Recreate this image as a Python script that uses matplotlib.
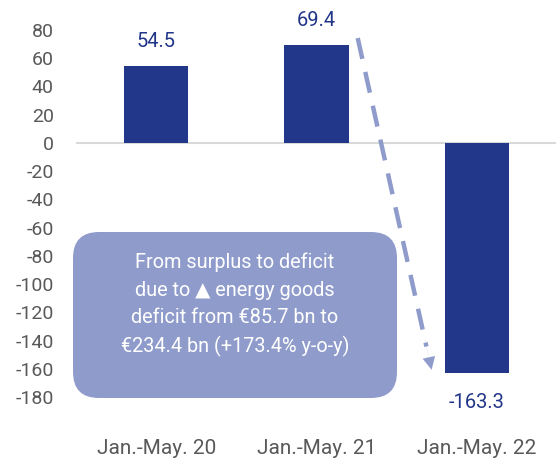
import matplotlib
matplotlib.use("Agg")
import matplotlib.pyplot as plt
from matplotlib.patches import FancyBboxPatch
from matplotlib.transforms import IdentityTransform

categories = ["Jan.-May. 20", "Jan.-May. 21", "Jan.-May. 22"]
values = [54.5, 69.4, -163.3]
value_labels = ["54.5", "69.4", "-163.3"]
yticks = list(range(80, -181, -20))
note = ("From surplus to deficit\ndue to \u25B2 energy goods\n"
        "deficit from \u20ac85.7 bn to\n\u20ac234.4 bn (+173.4% y-o-y)")

plt.rcParams['font.family'] = ['Roboto', 'DejaVu Sans']

bar_color = "#22368A"
label_color = "#22368A"
light = "#8F9CCB"
grey = "#595959"

fig = plt.figure(figsize=(5.56, 4.61), dpi=100)
ax = fig.add_axes([76/556, 1-397/461, 481/556, 367/461])

x = list(range(len(categories)))
ax.bar(x, values, width=0.4, color=bar_color, zorder=3)
ax.set_xlim(-0.5, 2.5)
ax.set_ylim(-180, 80)
ax.set_yticks(yticks)
ax.set_yticklabels([str(t) for t in yticks], fontsize=14, color=grey)
ax.set_xticks(x)
ax.set_xticklabels(categories, fontsize=15, color=grey)
ax.tick_params(axis='y', length=0, pad=16)
ax.tick_params(axis='x', length=0, pad=30)
for s in ax.spines.values():
    s.set_visible(False)
ax.axhline(0, color="#D9D9D9", lw=1.5, zorder=2)

for xi, v, lab in zip(x, values, value_labels):
    if v >= 0:
        ax.annotate(lab, (xi, v), xytext=(0, 11), textcoords="offset points",
                    ha='center', va='bottom', fontsize=14.5, color=label_color,
                    annotation_clip=False)
    else:
        ax.annotate(lab, (xi, v), xytext=(0, -14), textcoords="offset points",
                    ha='center', va='top', fontsize=14.5, color=label_color,
                    annotation_clip=False)

# annotation box (pixel coordinates)
box = FancyBboxPatch((73, 63), 324, 166, boxstyle="round,pad=0,rounding_size=26",
                     transform=IdentityTransform(), facecolor=light, edgecolor='none',
                     zorder=4)
fig.patches.append(box)
fig.text(235/556, 1-305/461, note, ha='center', va='center', fontsize=14.3,
         color='white', linespacing=1.55, zorder=5)

# dashed arrow
x0, y0 = 1.257, 74.3
x1, y1 = 1.718, -160.7
f = 0.93
xm, ym = x0 + (x1-x0)*f, y0 + (y1-y0)*f
ax.plot([x0, xm], [y0, ym], color=light, lw=3.2, dashes=(4.8, 3.0),
        solid_capstyle='butt', zorder=4, clip_on=False)
ax.annotate("", xy=(x1, y1), xytext=(xm - (x1-x0)*0.02, ym - (y1-y0)*0.02),
            arrowprops=dict(arrowstyle="-|>,head_length=0.9,head_width=0.45",
                            color=light, lw=0.1, shrinkA=0, shrinkB=0),
            annotation_clip=False, zorder=4)

fig.savefig("out.png", dpi=100)
